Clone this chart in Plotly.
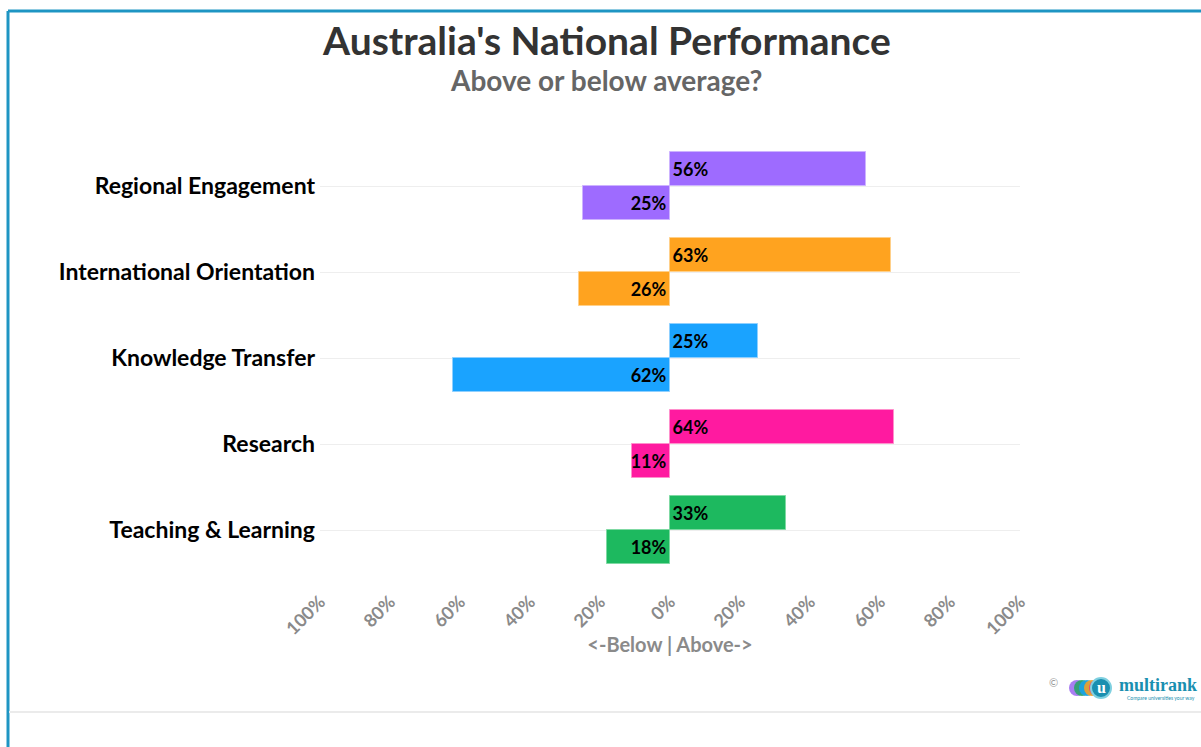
import plotly.graph_objects as go

categories = ["Teaching & Learning", "Research", "Knowledge Transfer",
              "International Orientation", "Regional Engagement"]
above = [33, 64, 25, 63, 56]
below = [18, 11, 62, 26, 25]
colors = ["#1db95f", "#ff1aa0", "#1aa3ff", "#ffa31f", "#9e6bff"]
edge = ["#7fd9a3", "#ff8fcc", "#8fd0ff", "#ffd08a", "#cdb3ff"]
tick_vals = [-100, -80, -60, -40, -20, 0, 20, 40, 60, 80, 100]
tick_text = ["100%", "80%", "60%", "40%", "20%", "0%", "20%", "40%", "60%", "80%", "100%"]

FONT = "Lato"
pos = list(range(len(categories)))

fig = go.Figure()
fig.add_trace(go.Bar(
    y=pos, x=above, orientation="h", width=0.4, offset=0,
    marker=dict(color=colors, line=dict(color=edge, width=1)),
    text=[f"{v}%" for v in above], textposition="inside", insidetextanchor="start",
    textangle=0, constraintext="none",
    textfont=dict(family=FONT, size=18, color="black", weight="bold"),
    hoverinfo="skip", showlegend=False,
))
fig.add_trace(go.Bar(
    y=pos, x=[-v for v in below], orientation="h", width=0.4, offset=-0.4,
    marker=dict(color=colors, line=dict(color=edge, width=1)),
    text=[f"{v}%" for v in below], textposition="inside", insidetextanchor="start",
    textangle=0, constraintext="none",
    textfont=dict(family=FONT, size=18, color="black", weight="bold"),
    hoverinfo="skip", showlegend=False,
))

L, R, T, B = 320, 181, 143, 174
W, H = 1201, 747
pw, ph = W - L - R, H - T - B
def px(x): return (x - L) / pw
def py(y): return (H - B - y) / ph

shapes = [
    dict(type="line", xref="paper", yref="paper", x0=px(8), x1=px(1201), y0=py(11), y1=py(11),
         line=dict(color="#1e95c3", width=3)),
    dict(type="line", xref="paper", yref="paper", x0=px(8), x1=px(8), y0=py(11), y1=py(747),
         line=dict(color="#1e95c3", width=3)),
    dict(type="line", xref="paper", yref="paper", x0=px(9), x1=px(1201), y0=py(712), y1=py(712),
         line=dict(color="#ebebeb", width=2)),
]
logo_cols = ["#a070f0", "#2aa36a", "#1aa3e8", "#f2a02a", "#f0407a"]
for i, c in enumerate(logo_cols):
    shapes.append(dict(type="circle", xref="paper", yref="paper",
                       xsizemode="pixel", ysizemode="pixel",
                       xanchor=px(1077 + i * 5), yanchor=py(688),
                       x0=-8, x1=8, y0=-8, y1=8,
                       fillcolor=c, line=dict(width=0), opacity=0.9))
shapes.append(dict(type="circle", xref="paper", yref="paper",
                   xsizemode="pixel", ysizemode="pixel",
                   xanchor=px(1101), yanchor=py(688),
                   x0=-10, x1=10, y0=-10, y1=10,
                   fillcolor="#1a8fb0", line=dict(color="#7fd0e0", width=2)))

annotations = [
    dict(text="Australia's National Performance", xref="paper", yref="paper",
         x=px(606), y=py(40), showarrow=False, xanchor="center", yanchor="middle",
         font=dict(family=FONT, size=39, color="#333333", weight="bold")),
    dict(text="Above or below average?", xref="paper", yref="paper",
         x=px(606), y=py(80), showarrow=False, xanchor="center", yanchor="middle",
         font=dict(family=FONT, size=28, color="#666666", weight="bold")),
    dict(text="u", xref="paper", yref="paper", x=px(1101), y=py(687),
         xanchor="center", yanchor="middle", showarrow=False,
         font=dict(family="Liberation Serif", size=16, color="white", weight="bold")),
    dict(text="multirank", xref="paper", yref="paper", x=px(1117), y=py(685), showarrow=False,
         xanchor="left", yanchor="middle",
         font=dict(family="Liberation Serif", size=18, color="#1a8fb0", weight="bold")),
    dict(text="Compare universities your way", xref="paper", yref="paper", x=px(1197), y=py(698),
         showarrow=False, xanchor="right", yanchor="middle",
         font=dict(family=FONT, size=5, color="#1a8fb0")),
    dict(text="©", xref="paper", yref="paper", x=px(1060), y=py(691), showarrow=False,
         font=dict(family=FONT, size=11, color="#999999")),
]

fig.update_layout(
    width=W, height=H, margin=dict(l=L, r=R, t=T, b=B),
    paper_bgcolor="white", plot_bgcolor="white",
    barmode="overlay", bargap=0,
    shapes=shapes, annotations=annotations,
    xaxis=dict(range=[-100, 100], tickvals=tick_vals, ticktext=tick_text,
               tickangle=-45, showgrid=False, zeroline=False, ticklabelstandoff=14,
               tickfont=dict(family=FONT, size=18, color="#8a8a8a", weight="bold"),
               title=dict(text="<-Below | Above->", standoff=0,
                          font=dict(family=FONT, size=20, color="#8a8a8a", weight="bold"))),
    yaxis=dict(range=[-0.5, 4.5], tickvals=pos, ticktext=categories,
               showgrid=True, gridcolor="#eeeeee", gridwidth=1, zeroline=False,
               ticks="", ticklabelstandoff=4,
               tickfont=dict(family=FONT, size=23, color="black", weight="bold")),
)

fig.write_html("out.html")
